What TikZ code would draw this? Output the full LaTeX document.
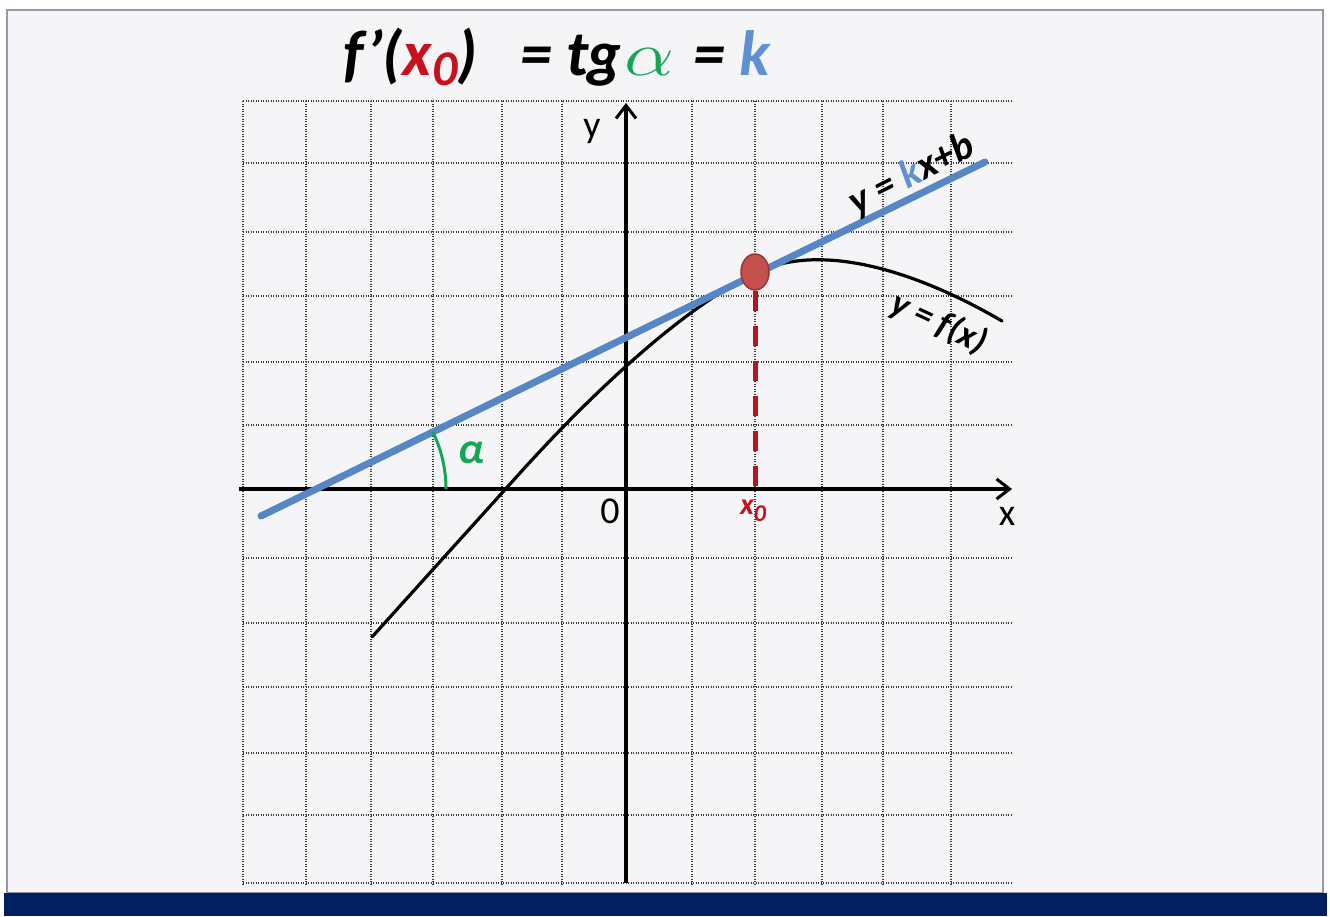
\documentclass[tikz,border=0pt]{standalone}
\usepackage{graphicx}
\usepackage{fontspec}
\setmainfont{Carlito}
\usetikzlibrary{arrows.meta,shapes.geometric}
\definecolor{navy}{RGB}{2,32,96}
\definecolor{panel}{RGB}{245,245,247}
\definecolor{framec}{RGB}{150,152,168}
\definecolor{tanblue}{RGB}{86,134,196}
\definecolor{kblue}{RGB}{95,145,210}
\definecolor{xred}{RGB}{200,16,30}
\definecolor{dotred}{RGB}{196,80,77}
\definecolor{dotedge}{RGB}{160,50,48}
\definecolor{dashred}{RGB}{185,20,30}
\definecolor{agreen}{RGB}{20,165,85}
\definecolor{gridc}{RGB}{55,55,55}
\tikzset{
  gridline/.style={gridc, line width=1.6pt, dash pattern=on 1.2pt off 1.3pt},
  axisline/.style={black, line width=4pt, -{Straight Barb[length=13pt,width=20pt,line width=3pt]}},
  curveline/.style={black, line width=3.2pt, line cap=round},
  tanline/.style={tanblue, line width=7pt, line cap=round},
  dropline/.style={dashred, line width=5pt, dash pattern=on 20pt off 15pt},
  axislabel/.style={font=\fontsize{38}{40}\selectfont, inner sep=0pt},
  bilabel/.style={font=\bfseries\itshape, inner sep=0pt},
  titlepart/.style={anchor=base west, inner sep=0pt, font=\bfseries\itshape\fontsize{64}{66}\selectfont}
}
\begin{document}
\begin{tikzpicture}[x=1pt,y=-1pt]
\useasboundingbox (0,0) rectangle (1330,916);
\fill[white] (0,0) rectangle (1330,916);
\draw[framec, fill=panel, line width=2pt] (7,10) rectangle (1323,893);
\fill[navy] (4,893) rectangle (1327,916);
% grid
\foreach \x in {243,306,371,433,502,562,692,755,822,883,951}
  \draw[gridline] (\x,101) -- (\x,886);
\foreach \y in {101,163,232,296,362,425,558,623,687,753,815,883}
  \draw[gridline] (243,\y) -- (1013,\y);
% axes
\coordinate (xs) at (239,489);
\coordinate (xe) at (1012,489);
\coordinate (ys) at (626,883);
\coordinate (ye) at (626,103);
\draw[axisline] (xs) -- (xe);
\draw[axisline] (ys) -- (ye);
\node[axislabel] (ylab) at (592,131) {y};
\node[axislabel] (xlab) at (1007,516) {x};
\node[axislabel] (olab) at (610,511) {0};
% curve
\coordinate (C0) at (372,637);
\coordinate (C1) at (520,473);
\coordinate (C2) at (755,273);
\coordinate (C3) at (1002,321);
\draw[curveline] (C0) -- (C1) .. controls (580,406.5) and (675,312) .. (C2)
  .. controls (825,239) and (925,276) .. (C3);
% tangent
\coordinate (T1) at (261,516);
\coordinate (T2) at (985,162);
\draw[tanline] (T1) -- (T2);
% angle
\draw[agreen, line width=3pt] (446,489) arc[start angle=0, end angle=-26, radius=130];
\node[bilabel, text=agreen, font=\bfseries\itshape\fontsize{44}{44}\selectfont] (alab) at (471,453) {α};
% point and drop
\coordinate (X0) at (755,489);
\node[ellipse, draw=dotedge, fill=dotred, line width=1.5pt, minimum width=28pt, minimum height=36pt, inner sep=0pt] (P) at (755,272) {};
\draw[dropline] (P.south) -- (X0);
\node[bilabel, text=xred, font=\bfseries\itshape\fontsize{30}{30}\selectfont] (x0lab) at (753,511) {x\raisebox{-0.25em}{\fontsize{24}{24}\selectfont 0}};
% labels of lines
\node[bilabel, rotate=27, font=\bfseries\itshape\fontsize{40}{42}\selectfont] (tlab) at (912,175) {y = \textcolor{kblue}{k}x+b};
\node[bilabel, rotate=-25, font=\bfseries\itshape\fontsize{36}{38}\selectfont] (flab) at (939,323) {y = f(x)};
% title
\node[titlepart] (t1) at (343,75) {f’(\textcolor{xred}{x\raisebox{-10pt}{\fontsize{50}{50}\selectfont 0}})};
\node[titlepart] (t2) at (520,75) {= tg};
\node[titlepart] (t3) at (624,75) {\textcolor{agreen}{\resizebox{50pt}{27pt}{$\alpha$}}};
\node[titlepart] (t4) at (693,75) {= \textcolor{kblue}{k}};
\end{tikzpicture}
\end{document}
